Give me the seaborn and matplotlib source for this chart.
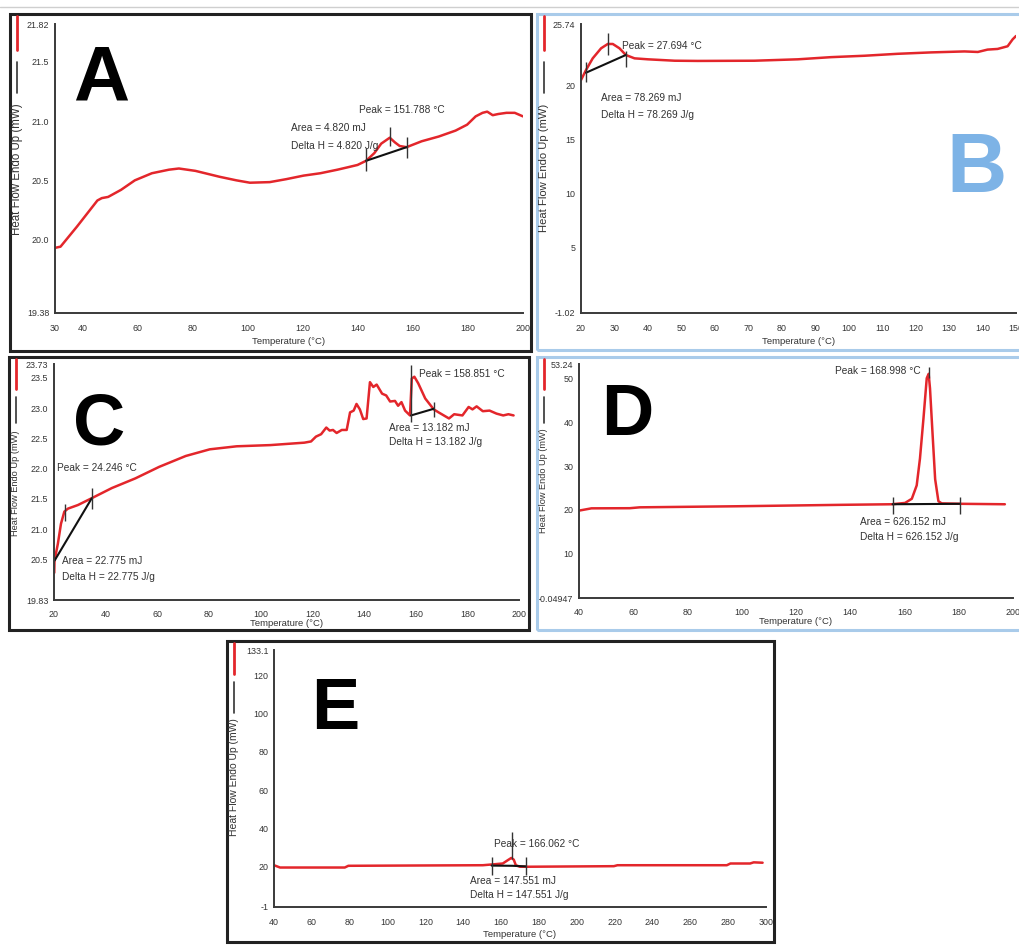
import matplotlib
matplotlib.use("Agg")
import matplotlib.pyplot as plt
import seaborn as sns
from matplotlib import font_manager as fm
from matplotlib.patches import Rectangle
from matplotlib.lines import Line2D

# ---------------- data ----------------
A_temp = [30, 32, 38, 45.4, 47, 49.3, 54, 59, 65.2, 71.4, 75, 81, 89.8, 95.9, 100.8, 108, 114,
          120.3, 126.4, 132.6, 136.3, 139.9, 143, 146, 148.5, 151.6, 153.5, 155.2, 157.7, 163.2,
          169.4, 175.5, 179.7, 182.8, 185.3, 187, 189, 191, 194, 197, 200]
A_heat = [19.93, 19.94, 20.11, 20.33, 20.35, 20.36, 20.42, 20.50, 20.56, 20.59, 20.60, 20.58, 20.53,
          20.50, 20.48, 20.485, 20.51, 20.54, 20.56, 20.59, 20.61, 20.63, 20.665, 20.73, 20.81,
          20.86, 20.82, 20.79, 20.78, 20.83, 20.87, 20.92, 20.97, 21.04, 21.07, 21.08, 21.05,
          21.06, 21.07, 21.07, 21.04]

B_temp = [20, 21.5, 23.5, 26, 28, 29.5, 31.5, 33.4, 36, 40, 48, 54.9, 71.8, 84.8, 94.7, 104.7,
          114.6, 124.6, 134.6, 138.6, 141.5, 144.5, 147.5, 149, 150]
B_heat = [20.55, 21.48, 22.56, 23.49, 23.89, 23.89, 23.49, 22.87, 22.56, 22.47, 22.34, 22.32, 22.34,
          22.47, 22.67, 22.80, 22.98, 23.11, 23.20, 23.15, 23.37, 23.43, 23.68, 24.32, 24.63]

C_temp = [20.1, 20.2, 21.5, 22.7, 24, 25.4, 29.3, 34.5, 42.4, 51.5, 60.7, 71, 80.3, 90.7, 103.8,
          116.9, 119.5, 121.4, 123.4, 125.4, 126.7, 128, 129.4, 131.4, 133.3, 134.6, 136, 137.1,
          138.4, 139.7, 141, 142.3, 143.6, 144.9, 147, 148.6, 150.1, 152, 153.2, 154.5, 155.9,
          157.8, 158.5, 159.5, 161, 163.7, 167, 168.9, 172.9, 174.9, 178.1, 180.5, 182, 183.6,
          186, 188.6, 191.3, 193.9, 195.9, 197.9]
C_heat = [20.28, 20.48, 20.76, 21.09, 21.29, 21.34, 21.40, 21.51, 21.68, 21.84, 22.03, 22.21, 22.32,
          22.37, 22.39, 22.43, 22.45, 22.53, 22.57, 22.68, 22.63, 22.64, 22.59, 22.64, 22.64,
          22.93, 22.96, 23.07, 22.98, 22.82, 22.83, 23.43, 23.35, 23.39, 23.24, 23.21, 23.11,
          23.12, 23.04, 23.10, 22.96, 22.88, 23.49, 23.52, 23.41, 23.16, 22.98, 22.93, 22.83,
          22.90, 22.88, 23.02, 22.98, 23.03, 22.95, 22.96, 22.91, 22.88, 22.90, 22.88]

D_temp = [40, 44.6, 58.7, 62.4, 97.9, 137, 155.3, 160.2, 162.7, 164.5, 165.7, 167, 168.2, 168.9,
          169.4, 170.3, 171.3, 172.5, 173.7, 181, 197]
D_heat = [19.85, 20.37, 20.4, 20.6, 20.84, 21.17, 21.3, 21.6, 22.55, 25.6, 31.7, 40.9, 50.0, 51.0,
          47.7, 37.8, 27.0, 22.0, 21.5, 21.4, 21.3]

E_temp = [40, 43.2, 77.4, 79.3, 150.4, 155.2, 160.9, 163.5, 165.4, 166.7, 167.8, 170, 172.8, 219.6,
          221.5, 279.3, 281.2, 291.6, 293.5, 298.2]
E_heat = [20.8, 19.6, 19.6, 20.5, 20.8, 21.2, 21.7, 23.4, 24.6, 23.7, 20.8, 20.0, 20.0, 20.3, 20.8,
          20.8, 21.7, 21.7, 22.3, 22.1]

# integration baselines and limit markers (temperature, low, high)
A_base_t, A_base_h = [143, 157.7], [20.665, 20.78]
A_marks = [(143, 20.575, 20.77), (151.6, 20.79, 20.95), (157.7, 20.69, 20.87)]
B_base_t, B_base_h = [21.5, 33.4], [21.23, 22.87]
B_marks = [(21.5, 20.4, 22.25), (28, 22.87, 24.87), (33.4, 21.8, 23.2)]
C_base1_t, C_base1_h = [20.2, 34.6], [20.48, 21.51]
C_base2_t, C_base2_h = [158.2, 167], [22.88, 22.99]
C_marks = [(24.2, 21.14, 21.42), (34.6, 21.34, 21.68), (158.2, 22.77, 23.71), (167, 22.85, 23.10)]
D_base_t, D_base_h = [155.6, 180.4], [21.3, 21.4]
D_marks = [(155.6, 19.1, 22.9), (180.4, 19.1, 22.9), (168.9, 50.0, 52.6)]
E_base_t, E_base_h = [155, 166, 173], [20.6, 20.5, 20.2]
E_marks = [(155, 15.7, 25.2), (173, 15.7, 25.2), (166, 24.3, 38.1)]

A_xticks = [30, 40, 60, 80, 100, 120, 140, 160, 180, 200]
A_yticks = [19.38, 19.5, 20.0, 20.5, 21.0, 21.5, 21.82]
A_ylabels = ["19.38", "", "20.0", "20.5", "21.0", "21.5", "21.82"]
B_xticks = list(range(20, 151, 10))
B_yticks = [-1.02, 0, 5, 10, 15, 20, 25.74]
B_ylabels = ["-1.02", "", "5", "10", "15", "20", "25.74"]
C_xticks = list(range(20, 201, 20))
C_yticks = [19.83, 20.0, 20.5, 21.0, 21.5, 22.0, 22.5, 23.0, 23.5, 23.73]
C_ylabels = ["19.83", "", "20.5", "21.0", "21.5", "22.0", "22.5", "23.0", "23.5", "23.73"]
D_xticks = list(range(40, 201, 20))
D_yticks = [-0.04947, 10, 20, 30, 40, 50, 53.24]
D_ylabels = ["-0.04947", "10", "20", "30", "40", "50", "53.24"]
E_xticks = list(range(40, 301, 20))
E_yticks = [-1, 20, 40, 60, 80, 100, 120, 133.1]
E_ylabels = ["-1", "20", "40", "60", "80", "100", "120", "133.1"]

# ---------------- style ----------------
sns.set_theme(style="white")
avail = {f.name for f in fm.fontManager.ttflist}
fam = [f for f in ["Liberation Sans", "DejaVu Sans"] if f in avail]
plt.rcParams["font.family"] = fam

RED = "#E3262B"
AXC = "#3a3a3a"
BLUEBOX = "#A9CBEA"
TICK_FS = 6.4
NOTE_FS = 7.3
W, H = 1019, 950
fig = plt.figure(figsize=(W / 100, H / 100), dpi=100)
fig.patch.set_facecolor("white")


def frac(l, t, r, b):
    return [l / W, 1 - b / H, (r - l) / W, (b - t) / H]


fig.add_artist(Line2D([0, 1], [1 - 7 / H] * 2, color="#cfcfcf", lw=1))


def panel(box, axr, boxcol, temp, heat, xlim, ylim, xt, yt, ylab, letter, lpos, lsize, lcol,
          leg, ylab_fs, ylab_y, xpad, xlpad):
    l, t, r, b = box
    fig.add_artist(Rectangle((l / W, 1 - b / H), (r - l) / W, (b - t) / H, fill=False,
                             edgecolor=boxcol, lw=2.2, transform=fig.transFigure))
    # legend strip + y label
    xl = (l + 7) / W
    fig.add_artist(Line2D([xl, xl], [1 - (t + 2) / H, 1 - (t + leg[0]) / H], color=RED, lw=2,
                          transform=fig.transFigure))
    fig.add_artist(Line2D([xl, xl], [1 - (t + leg[1]) / H, 1 - (t + leg[2]) / H], color="#333",
                          lw=1.2, transform=fig.transFigure))
    ax = fig.add_axes(frac(*axr))
    fig.text(xl, 1 - ylab_y / H, "Heat Flow Endo Up (mW)", rotation=90, ha="center",
             va="center", fontsize=ylab_fs, color="#333")
    sns.lineplot(x=temp, y=heat, ax=ax, color=RED, lw=1.8, sort=False, estimator=None,
                 legend=False)
    ax.set_xlim(xlim)
    ax.set_ylim(ylim)
    ax.set_xticks(xt)
    ax.set_xticklabels([str(v) for v in xt])
    ax.set_yticks(yt)
    ax.set_yticklabels(ylab)
    for s in ["top", "right"]:
        ax.spines[s].set_visible(False)
    for s in ["left", "bottom"]:
        ax.spines[s].set_color(AXC)
        ax.spines[s].set_linewidth(1.4)
    ax.tick_params(axis="both", direction="inout", length=4, width=1, color=AXC,
                   labelsize=TICK_FS, labelcolor="#333")
    ax.tick_params(axis="x", pad=xpad)
    ax.tick_params(axis="y", pad=2)
    ax.set_xlabel("Temperature (\u00b0C)", fontsize=TICK_FS + 0.4, color="#333",
                  labelpad=xlpad)
    ax.set_ylabel("")
    ax.set_facecolor("none")
    fig.text(lpos[0] / W, 1 - lpos[1] / H, letter, fontsize=lsize, fontweight="bold",
             color=lcol, ha="center", va="baseline")
    return ax


def annot(ax, base_list, marks, texts):
    for bt, bh in base_list:
        ax.plot(bt, bh, color="#111", lw=1.5)
    for x, lo, hi in marks:
        ax.vlines(x, lo, hi, color="#333", lw=1)
    for x, y, s, ha in texts:
        ax.text(x, y, s, ha=ha, va="center", fontsize=NOTE_FS, color="#333")


axA = panel((10, 14, 531, 351), (55, 24, 523, 313), "#222", A_temp, A_heat, (30, 200),
            (19.38, 21.82), A_xticks, A_yticks, A_ylabels, "A", (101, 101), 56, "black",
            (36, 48, 79), 8.3, 169, 6, 3)
annot(axA, [(A_base_t, A_base_h)], A_marks,
      [(140.3, 21.095, "Peak = 151.788 \u00b0C", "left"),
       (115.6, 20.94, "Area = 4.820 mJ", "left"),
       (115.6, 20.79, "Delta H = 4.820 J/g", "left")])

axB = panel((537, 14, 1030, 350), (581, 24, 1016, 313), BLUEBOX, B_temp, B_heat, (20, 150),
            (-1.02, 25.74), B_xticks, B_yticks, B_ylabels, "B", (977, 192), 60, "#7DB3E6",
            (36, 48, 79), 8.1, 168, 6, 3)
annot(axB, [(B_base_t, B_base_h)], B_marks,
      [(32.2, 23.7, "Peak = 27.694 \u00b0C", "left"),
       (26.0, 18.86, "Area = 78.269 mJ", "left"),
       (26.0, 17.32, "Delta H = 78.269 J/g", "left")])

axC = panel((9, 357, 529, 630), (54, 364, 519, 600), "#222", C_temp, C_heat, (20, 200),
            (19.83, 23.73), C_xticks, C_yticks, C_ylabels, "C", (99, 444), 52, "black",
            (32, 40, 66), 6.7, 483, 5, 0.5)
annot(axC, [(C_base1_t, C_base1_h), (C_base2_t, C_base2_h)], C_marks,
      [(21.3, 22.01, "Peak = 24.246 \u00b0C", "left"),
       (23.0, 20.48, "Area = 22.775 mJ", "left"),
       (23.0, 20.21, "Delta H = 22.775 J/g", "left"),
       (161.4, 23.57, "Peak = 158.851 \u00b0C", "left"),
       (149.6, 22.68, "Area = 13.182 mJ", "left"),
       (149.6, 22.44, "Delta H = 13.182 J/g", "left")])

axD = panel((537, 357, 1030, 630), (579, 364, 1013, 598), BLUEBOX, D_temp, D_heat, (40, 200),
            (-0.04947, 53.24), D_xticks, D_yticks, D_ylabels, "D", (627, 435), 52, "black",
            (32, 40, 66), 6.6, 481, 5, 0.5)
annot(axD, [(D_base_t, D_base_h)], D_marks,
      [(166.1, 51.7, "Peak = 168.998 \u00b0C", "right"),
       (143.7, 17.2, "Area = 626.152 mJ", "left"),
       (143.7, 13.8, "Delta H = 626.152 J/g", "left")])

axE = panel((227, 641, 774, 942), (274, 650, 766, 907), "#222", E_temp, E_heat, (40, 300),
            (-1, 133.1), E_xticks, E_yticks, E_ylabels, "E", (335, 729), 52, "black",
            (33, 41, 72), 7.5, 777, 6, 2)
annot(axE, [(E_base_t, E_base_h)], E_marks,
      [(156.5, 32.1, "Peak = 166.062 \u00b0C", "left"),
       (143.7, 12.6, "Area = 147.551 mJ", "left"),
       (143.7, 5.1, "Delta H = 147.551 J/g", "left")])

fig.savefig("out.png", dpi=100, facecolor="white")
